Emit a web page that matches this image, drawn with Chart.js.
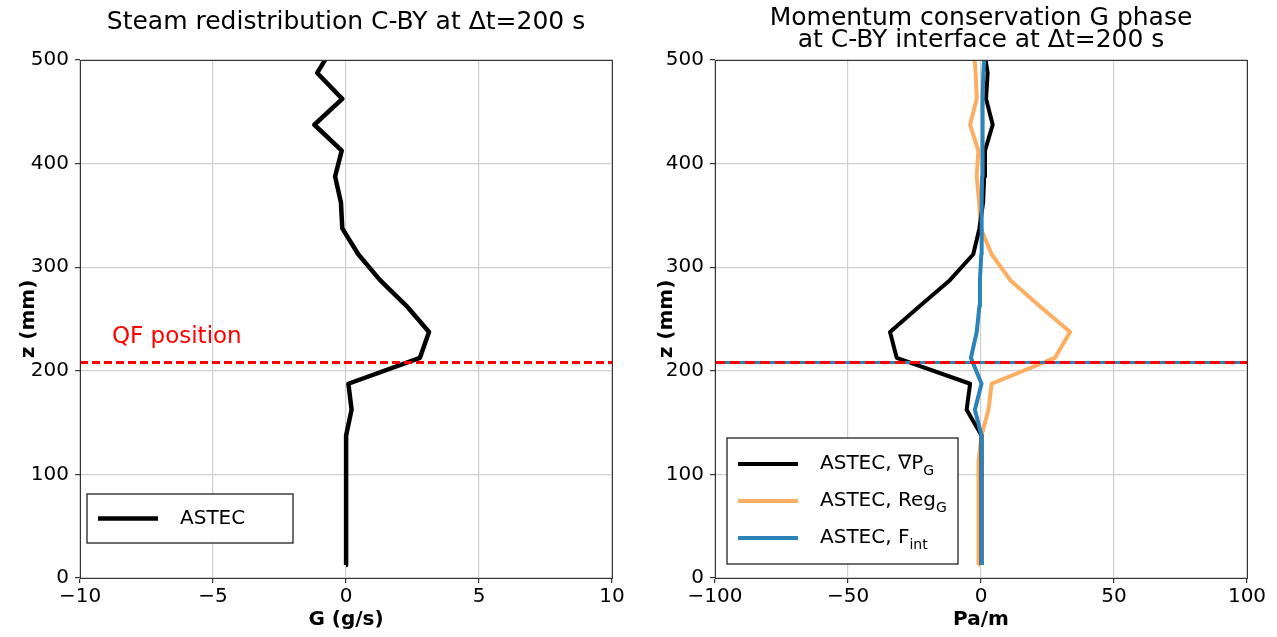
<!DOCTYPE html>
<html>
<head>
<meta charset="utf-8">
<script src="https://cdn.jsdelivr.net/npm/chart.js@4.4.1/dist/chart.umd.min.js"></script>
<style>
  body { margin: 0; background: #fff; }
  #wrap { position: relative; width: 1277px; height: 637px; }
  canvas { position: absolute; top: 0; }
</style>
</head>
<body>
<div id="wrap">
  <canvas id="steamChart" width="640" height="637" style="left:0"></canvas>
  <canvas id="momentumChart" width="637" height="637" style="left:640px"></canvas>
</div>
<script>
// --- DATA ---

// cell centres along the channel (mm)
const zLevels = [12.5, 37.5, 62.5, 87.5, 112.5, 137.5, 162.5, 187.5, 212.5, 237.5, 262.5,
                 287.5, 312.5, 337.5, 362.5, 387.5, 412.5, 437.5, 462.5, 487.5, 512.5]

// steam flow between C and BY (g/s)
const steamG = [0, 0, 0, 0, 0, 0.02, 0.21, 0.09, 2.78, 3.12, 2.28,
                1.28, 0.46, -0.14, -0.19, -0.41, -0.16, -1.19, -0.14, -1.08, -0.5]

// momentum terms, gas phase (Pa/m)
const gradP = [0.2, 0.2, 0.2, 0.2, 0.2, 0.2, -5.4, -4.1, -31.7, -34.2, -23,
               -11.7, -2.9, -0.6, 0.8, 1.2, 1.5, 4.4, 1.9, 2.5, 1]
const regG = [-1, -1, -1, -1, -0.8, 0.2, 2.8, 4, 27.8, 33.5, 22,
              11, 4, -0.1, -0.7, -1.6, -1, -4.1, -1.6, -2.0, -2.8]
const fInt = [0.2, 0.2, 0.2, 0.2, 0.2, 0.2, -2.3, 0.2, -3.8, -1.6, -0.6,
              -0.4, 0.1, 0.2, 0.3, 0.4, 0.5, 0.6, 0.7, 0.9, 1.5]

// quench front position (mm)
const qfZ = 208

const zTicks = [0, 100, 200, 300, 400, 500]
const gTicks = [-10, -5, 0, 5, 10]
const paTicks = [-100, -50, 0, 50, 100]

const FONT = 'DejaVu Sans'
Chart.defaults.font.family = FONT
Chart.defaults.color = '#000'

// --- HELPERS ---

const toPoints = (vals) => vals.map((v, i) => ({ x: v, y: zLevels[i] }))
const minus = (v) => String(v).replace('-', '\u2212')

function curve(values, color, width, legend, legendRow) {
    return {
        data: toPoints(values),
        borderColor: color,
        borderWidth: width,
        pointRadius: 0,
        borderJoinStyle: 'round',
        clip: 0,
        legend: legend,
        legendRow: legendRow
    }
}

function qfLine(xMin, xMax, color, dash) {
    return {
        data: [{ x: xMin, y: qfZ }, { x: xMax, y: qfZ }],
        borderColor: color,
        borderWidth: 3,
        borderDash: dash,
        pointRadius: 0,
        clip: 0
    }
}

function xAxis(ticks, title) {
    return {
        type: 'linear',
        min: ticks[0],
        max: ticks[ticks.length - 1],
        afterBuildTicks: (s) => { s.ticks = ticks.map(v => ({ value: v })) },
        afterFit: (s) => { s.height = 59 },
        ticks: { font: { size: 20 }, padding: 2, maxRotation: 0, callback: minus },
        grid: { color: '#cfcfcf', lineWidth: 1.2, tickColor: '#333', tickLength: 5 },
        border: { color: '#333', width: 1 },
        title: { display: true, text: title, font: { size: 20, weight: 'bold' }, padding: { top: 0, bottom: 5 } }
    }
}

function zAxis(width, titlePad) {
    return {
        type: 'linear',
        min: 0,
        max: 500,
        afterBuildTicks: (s) => { s.ticks = zTicks.map(v => ({ value: v })) },
        afterFit: (s) => { s.width = width },
        ticks: { font: { size: 20 }, padding: 6 },
        grid: { color: '#cfcfcf', lineWidth: 1.2, tickColor: '#333', tickLength: 5 },
        border: { color: '#333', width: 1 },
        title: { display: true, text: 'z (mm)', font: { size: 20, weight: 'bold' }, padding: { top: titlePad, bottom: 0 } }
    }
}

// --- PLUGINS ---

// closes the plot box on the top and right sides
const frame = {
    id: 'frame',
    afterDatasetsDraw(chart) {
        const { ctx, chartArea: a } = chart
        ctx.save()
        ctx.strokeStyle = '#333'
        ctx.lineWidth = 1
        ctx.strokeRect(a.left + 0.5, a.top + 0.5, a.right - a.left, a.bottom - a.top)
        ctx.restore()
    }
}

// legend inside the plot area, labels can carry a subscript
const boxLegend = {
    id: 'boxLegend',
    afterDraw(chart, args, opts) {
        const { ctx, chartArea: a } = chart
        const x = a.left + opts.x, y = a.top + opts.y
        ctx.save()
        ctx.fillStyle = '#fff'
        ctx.fillRect(x, y, opts.w, opts.h)
        ctx.strokeStyle = '#222'
        ctx.lineWidth = 1.3
        ctx.strokeRect(x, y, opts.w, opts.h)

        chart.data.datasets.forEach(ds => {
            if (!ds.legend) return
            const ry = y + opts.first + ds.legendRow * opts.step
            ctx.strokeStyle = ds.borderColor
            ctx.lineWidth = ds.borderWidth
            ctx.beginPath()
            ctx.moveTo(x + 11, ry)
            ctx.lineTo(x + 71, ry)
            ctx.stroke()

            ctx.fillStyle = '#000'
            ctx.textBaseline = 'middle'
            ctx.font = `20px ${FONT}`
            ctx.fillText(ds.legend[0], x + 93, ry)
            if (ds.legend[1]) {
                const w = ctx.measureText(ds.legend[0]).width
                ctx.font = `14px ${FONT}`
                ctx.fillText(ds.legend[1], x + 93 + w, ry + 7)
            }
        })
        ctx.restore()
    }
}

// "QF position" note above the dashed line
const qfNote = {
    id: 'qfNote',
    afterDraw(chart, args, opts) {
        const { ctx, scales } = chart
        ctx.save()
        ctx.fillStyle = '#ff0000'
        ctx.font = `23px ${FONT}`
        ctx.textBaseline = 'alphabetic'
        ctx.fillText(opts.text, scales.x.getPixelForValue(opts.atX), scales.y.getPixelForValue(opts.atZ))
        ctx.restore()
    }
}

// --- CHARTS ---

new Chart(document.getElementById('steamChart'), {
    type: 'line',
    data: {
        datasets: [
            qfLine(-10, 10, '#ff0000', [8, 4]),
            curve(steamG, '#000', 4.5, ['ASTEC', ''], 0)
        ]
    },
    options: {
        responsive: false,
        devicePixelRatio: 1,
        animation: false,
        layout: { padding: { left: 0, right: 28, top: 0, bottom: 0 } },
        scales: { x: xAxis(gTicks, 'G (g/s)'), y: zAxis(80, 17) },
        plugins: {
            legend: { display: false },
            tooltip: { enabled: false },
            title: {
                display: true,
                fullSize: false,
                text: 'Steam redistribution C-BY at \u0394t=200 s',
                font: { size: 25, weight: 'normal' },
                padding: { top: 7, bottom: 23 }
            },
            boxLegend: { x: 7, y: 434, w: 206, h: 49, first: 24.5, step: 37 },
            qfNote: { text: 'QF position', atX: -8.8, atZ: 227 }
        }
    },
    plugins: [frame, boxLegend, qfNote]
})

// datasets earlier in the list are painted on top
new Chart(document.getElementById('momentumChart'), {
    type: 'line',
    data: {
        datasets: [
            qfLine(-100, 100, '#ff0000', [10, 5]),
            qfLine(-100, 100, '#2b83ba', []),
            curve(fInt, '#2b83ba', 4, ['ASTEC, F', 'int'], 2),
            curve(gradP, '#000', 4, ['ASTEC, \u2207P', 'G'], 0),
            curve(regG, '#fdae61', 4, ['ASTEC, Reg', 'G'], 1)
        ]
    },
    options: {
        responsive: false,
        devicePixelRatio: 1,
        animation: false,
        layout: { padding: { left: 0, right: 30, top: 0, bottom: 0 } },
        scales: { x: xAxis(paTicks, 'Pa/m'), y: zAxis(75, 15) },
        plugins: {
            legend: { display: false },
            tooltip: { enabled: false },
            title: {
                display: true,
                fullSize: false,
                text: ['Momentum conservation G phase', 'at C-BY interface at \u0394t=200 s'],
                font: { size: 25, weight: 'normal', lineHeight: 0.9 },
                padding: { top: 7, bottom: 8 }
            },
            boxLegend: { x: 12, y: 378, w: 231, h: 126, first: 26, step: 37 }
        }
    },
    plugins: [frame, boxLegend]
})
</script>
</body>
</html>
